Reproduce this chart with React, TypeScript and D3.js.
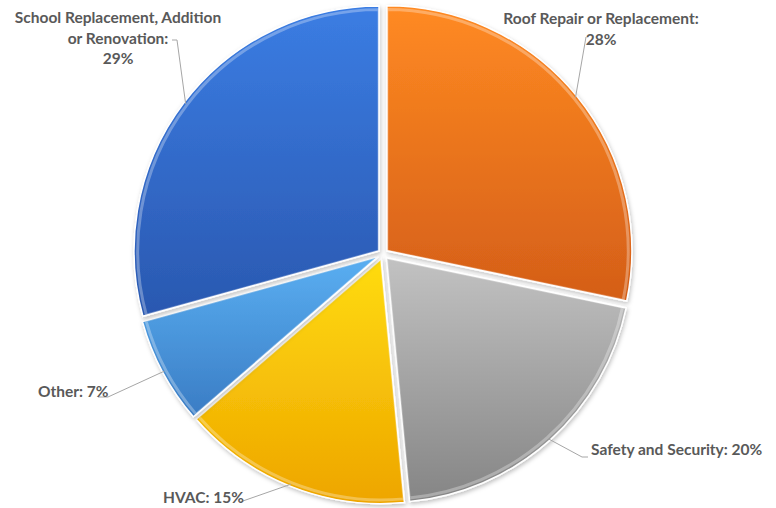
import React from "react";
import * as d3 from "d3";

const categories = [
  "Roof Repair or Replacement",
  "Safety and Security",
  "HVAC",
  "Other",
  "School Replacement, Addition or Renovation",
];
const values = [28, 20, 15, 7, 29];
const labelText = [
  ["Roof Repair or Replacement:", "28%"],
  ["Safety and Security: 20%"],
  ["HVAC: 15%"],
  ["Other: 7%"],
  ["School Replacement, Addition", "or Renovation:", "29%"],
];
const colorsTop = ["#FF8A22", "#C2C2C2", "#FFDC10", "#5AAFF2", "#3B7DE3"];
const colorsBottom = ["#D45E18", "#858585", "#EEA500", "#3A7CC4", "#2A58B0"];

const W = 776;
const H = 508;
const cx = 383;
const cy = 254;
const R = 245;
const explode = 5;

const labelLayout = [
  { x: 601, y: 24, anchor: "middle", lead: [[586, 37]] },
  { x: 591, y: 455, anchor: "start", lead: [[582, 457], [588, 457]] },
  { x: 163, y: 503, anchor: "start", lead: [[240, 502]] },
  { x: 38, y: 397, anchor: "start", lead: [[108, 397], [98, 397]] },
  { x: 118, y: 23, anchor: "middle", lead: [[177, 40], [172, 40]] },
];

export default function App() {
  const pie = d3.pie<number>().sort(null).value((d) => d);
  const arcs = pie(values);
  const arc = d3.arc<d3.PieArcDatum<number>>().innerRadius(0).outerRadius(R);

  return (
    <svg width={W} height={H} style={{ position: "absolute", left: 0, top: 0, background: "#fff" }}>
      <defs>
        {categories.map((c, i) => (
          <linearGradient key={c} id={`g${i}`} x1="0" y1="0" x2="0" y2="1">
            <stop offset="0%" stopColor={colorsTop[i]} />
            <stop offset="100%" stopColor={colorsBottom[i]} />
          </linearGradient>
        ))}
        <filter id="sh" x="-10%" y="-10%" width="120%" height="120%">
          <feDropShadow dx="1" dy="2" stdDeviation="2" floodColor="#000" floodOpacity="0.25" />
        </filter>
      </defs>
      <g transform={`translate(${cx},${cy})`}>
        {arcs.map((a, i) => {
          const mid = (a.startAngle + a.endAngle) / 2;
          const dx = Math.sin(mid) * explode;
          const dy = -Math.cos(mid) * explode;
          return (
            <g key={categories[i]} transform={`translate(${dx},${dy})`}>
              <path d={arc(a) || ""} fill={`url(#g${i})`} stroke="#fff" strokeWidth={1.5} filter="url(#sh)" />
              <path
                d={arc(a) || ""}
                fill="none"
                stroke="rgba(255,255,255,0.3)"
                strokeWidth={3}
                transform="scale(0.985)"
              />
            </g>
          );
        })}
      </g>
      {arcs.map((a, i) => {
        const L = labelLayout[i];
        const mid = (a.startAngle + a.endAngle) / 2;
        const dx = Math.sin(mid) * explode;
        const dy = -Math.cos(mid) * explode;
        const ex = cx + dx + Math.sin(mid) * (R - 2);
        const ey = cy + dy - Math.cos(mid) * (R - 2);
        const pts = [[ex, ey], ...L.lead];
        return (
          <g key={"l" + i}>
            <path
              d={d3.line()(pts as [number, number][]) || ""}
              fill="none"
              stroke="#A6A6A6"
              strokeWidth={1}
            />
            {labelText[i].map((t, j) => (
              <text
                key={j}
                x={L.x}
                y={L.y + j * 20.5}
                textAnchor={L.anchor as any}
                fontFamily="Lato, 'Open Sans', sans-serif"
                fontWeight="bold"
                fontSize={15.5}
                fill="#595959"
              >
                {t}
              </text>
            ))}
          </g>
        );
      })}
    </svg>
  );
}
